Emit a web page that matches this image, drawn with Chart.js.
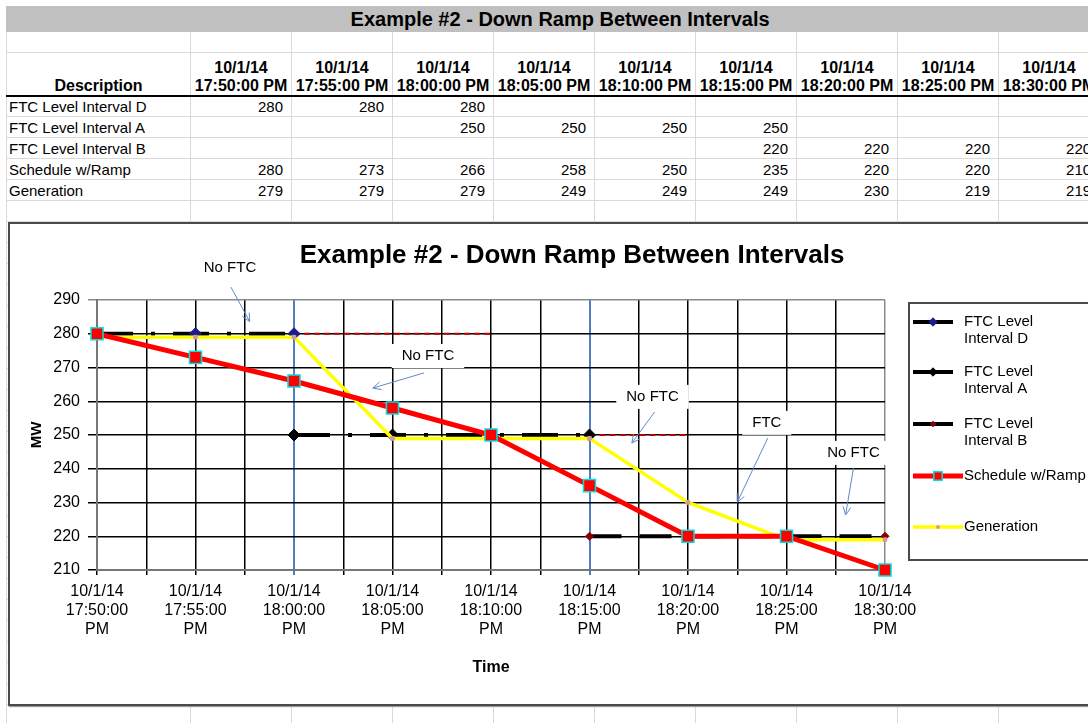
<!DOCTYPE html>
<html>
<head>
<meta charset="utf-8">
<title>Example #2 - Down Ramp Between Intervals</title>
<script src="https://cdn.jsdelivr.net/npm/chart.js@4.4.0/dist/chart.umd.min.js"></script>
<style>
  html, body { margin: 0; padding: 0; background: #fff; }
  body { width: 1088px; height: 723px; overflow: hidden; position: relative; font-family: "Liberation Sans", Arial, sans-serif; color: #000; }
  #sheet { position: absolute; left: 6px; top: 6px; width: 1093px; border-collapse: collapse; table-layout: fixed; }
  #sheet td { border: 1px solid #d9d9d9; padding: 0; font-size: 15px; white-space: nowrap; overflow: hidden; line-height: 17px; }
  #sheet tr.band td { background: #c0c0c0; border-color: #c0c0c0; font-weight: bold; font-size: 20px; text-align: center; padding-left: 14px; }
  #sheet tr.head td { font-weight: bold; font-size: 16px; text-align: center; vertical-align: bottom; border-bottom: 2px solid #000; line-height: 18px; }
  #sheet td.num { text-align: right; padding-right: 8px; }
  #sheet td.name { padding-left: 2px; }
  #frame { position: absolute; left: 8px; top: 222px; width: 1100px; height: 480px; border: 2px solid #4a4a4a; background: #fff; box-shadow: 1px 1px 1px #999; }
  #chart { position: absolute; left: 10px; top: 224px; }
</style>
</head>
<body>
<table id="sheet"></table>
<div id="frame"></div>
<canvas id="chart" width="1078" height="480"></canvas>
<script>
const dateLabel = '10/1/14';
const timeLabels = ['17:50:00', '17:55:00', '18:00:00', '18:05:00', '18:10:00', '18:15:00', '18:20:00', '18:25:00', '18:30:00'];
const ftcIntervalD = [280, 280, 280, null, null, null, null, null, null];
const ftcIntervalA = [null, null, 250, 250, 250, 250, null, null, null];
const ftcIntervalB = [null, null, null, null, null, 220, 220, 220, 220];
const scheduleRamp = [280, 273, 266, 258, 250, 235, 220, 220, 210];
const generation = [279, 279, 279, 249, 249, 249, 230, 219, 219];
// lineas rojas punteadas (nivel FTC que sigue)
const carryOverD = [null, null, 280, 280, 280, null, null, null, null];
const carryOverA = [null, null, null, null, null, 250, 250, null, null];
const yMin = 210, yMax = 290, yStep = 10;

// notas con flecha, en unidades de los ejes
const callouts = [
  { text: 'No FTC', at: [1.35, 299.6], from: [1.36, 293.8], to: [1.55, 283.6] },
  { text: 'No FTC', at: [3.36, 273.4], from: [3.32, 268.4], to: [2.80, 263.9] },
  { text: 'No FTC', at: [5.64, 261.3], from: [5.66, 256.8], to: [5.43, 247.6] },
  { text: 'FTC', at: [6.80, 253.6], from: [6.81, 249.1], to: [6.50, 230.1] },
  { text: 'No FTC', at: [7.68, 244.7], from: [7.68, 240.2], to: [7.60, 226.3] }
];

const FONT = '"Liberation Sans", Arial, sans-serif';

// 1. tabla de la hoja de calculo
const tableRows = [
  ['FTC Level Interval D', ftcIntervalD],
  ['FTC Level Interval A', ftcIntervalA],
  ['FTC Level Interval B', ftcIntervalB],
  ['Schedule w/Ramp', scheduleRamp],
  ['Generation', generation]
];

function pintarTabla() {
  const cols = '<colgroup><col style="width:184px">' + timeLabels.map(() => '<col style="width:101px">').join('') + '</colgroup>';
  const empty = n => '<td></td>'.repeat(n);
  let html = cols;
  html += '<tr class="band" style="height:25px"><td colspan="' + (timeLabels.length + 1) + '">Example #2 - Down Ramp Between Intervals</td></tr>';
  html += '<tr style="height:21px">' + empty(timeLabels.length + 1) + '</tr>';
  html += '<tr class="head" style="height:43px"><td>Description</td>' +
    timeLabels.map(t => '<td>' + dateLabel + '<br>' + t + ' PM</td>').join('') + '</tr>';
  tableRows.forEach(([name, vals]) => {
    html += '<tr style="height:21px"><td class="name">' + name + '</td>' +
      vals.map(v => '<td class="num">' + (v === null ? '' : v) + '</td>').join('') + '</tr>';
  });
  for (let i = 0; i < 25; i++) html += '<tr style="height:21px">' + empty(timeLabels.length + 1) + '</tr>';
  document.getElementById('sheet').innerHTML = html;
}

// 2. grafico
const pts = arr => arr.map((v, i) => ({ x: i, y: v }));

function arrow(ctx, x1, y1, x2, y2) {
  ctx.beginPath(); ctx.moveTo(x1, y1); ctx.lineTo(x2, y2); ctx.stroke();
  const a = Math.atan2(y2 - y1, x2 - x1), h = 9;
  ctx.beginPath();
  ctx.moveTo(x2 - h * Math.cos(a - 0.45), y2 - h * Math.sin(a - 0.45));
  ctx.lineTo(x2, y2);
  ctx.lineTo(x2 - h * Math.cos(a + 0.45), y2 - h * Math.sin(a + 0.45));
  ctx.stroke();
}

const decoracion = {
  id: 'decoracion',
  beforeDatasetsDraw(chart) {
    const { ctx, scales: { x, y } } = chart;
    ctx.save();
    ctx.font = '15px ' + FONT;
    ctx.fillStyle = '#fff';
    callouts.forEach(c => {
      const w = ctx.measureText(c.text).width + 20;
      ctx.fillRect(x.getPixelForValue(c.at[0]) - w / 2, y.getPixelForValue(c.at[1]) - 12, w, 24);
    });
    ctx.restore();
  },
  afterDatasetsDraw(chart) {
    const { ctx, scales: { x, y } } = chart;
    ctx.save();
    ctx.font = '15px ' + FONT;
    ctx.textAlign = 'center';
    ctx.textBaseline = 'middle';
    ctx.strokeStyle = '#5f89c6';
    ctx.lineWidth = 1;
    callouts.forEach(c => {
      ctx.fillStyle = '#000';
      ctx.fillText(c.text, x.getPixelForValue(c.at[0]), y.getPixelForValue(c.at[1]));
      arrow(ctx, x.getPixelForValue(c.from[0]), y.getPixelForValue(c.from[1]),
        x.getPixelForValue(c.to[0]), y.getPixelForValue(c.to[1]));
    });

    // titulo
    ctx.font = 'bold 26px ' + FONT;
    ctx.fillStyle = '#000';
    ctx.fillText('Example #2 - Down Ramp Between Intervals', 562, 32);

    // leyenda
    const lx = 899, ly = 79;
    ctx.strokeStyle = '#4a4a4a';
    ctx.lineWidth = 2;
    ctx.strokeRect(lx, ly, 200, 257);
    ctx.textAlign = 'left';
    ctx.font = '15px ' + FONT;
    const rowsY = [98, 148, 200, 252, 303];
    chart.data.datasets
      .filter(d => d.legendLines)
      .sort((a, b) => a.legendPos - b.legendPos)
      .forEach((d, i) => {
        const yy = rowsY[i];
        const len = d.legendLines.length > 1 ? 40 : 50;
        ctx.strokeStyle = d.borderColor;
        ctx.lineWidth = d.borderWidth;
        ctx.setLineDash([]);
        ctx.beginPath(); ctx.moveTo(lx + 4, yy); ctx.lineTo(lx + 4 + len, yy); ctx.stroke();
        ctx.fillStyle = d.pointBackgroundColor;
        ctx.strokeStyle = d.pointBorderColor;
        ctx.lineWidth = d.pointBorderWidth;
        Chart.helpers.drawPoint(ctx, { pointStyle: d.pointStyle, radius: d.pointRadius * 0.7, rotation: 0, borderWidth: d.pointBorderWidth }, lx + 4 + len / 2, yy);
        ctx.fillStyle = '#000';
        d.legendLines.forEach((t, j) => ctx.fillText(t, lx + 55, yy + j * 17));
      });
    ctx.restore();
  }
};

function pintarGrafico() {
  const line = (label, data, extra) => Object.assign({
    label, data: pts(data), tension: 0, spanGaps: false, clip: false, fill: false
  }, extra);

  new Chart(document.getElementById('chart'), {
    type: 'line',
    data: {
      datasets: [
        line('Schedule w/Ramp', scheduleRamp, {
          borderColor: '#ff0000', borderWidth: 5, pointStyle: 'rect', pointRadius: 8.5,
          pointBackgroundColor: '#ff0000', pointBorderColor: '#00e0e0', pointBorderWidth: 1.5,
          order: 0, legendLines: ['Schedule w/Ramp'], legendPos: 3
        }),
        line('Generation', generation, {
          borderColor: '#ffff00', borderWidth: 3.5, pointStyle: 'rect', pointRadius: 2.5,
          pointBackgroundColor: '#d39a9a', pointBorderColor: '#d39a9a', pointBorderWidth: 1,
          order: 1, legendLines: ['Generation'], legendPos: 4
        }),
        line('FTC Level Interval D', ftcIntervalD, {
          borderColor: '#000', borderWidth: 4, borderDash: [36, 18, 4, 18], pointStyle: 'rectRot', pointRadius: 6,
          pointBackgroundColor: '#1c1c8c', pointBorderColor: '#1c1c8c', pointBorderWidth: 1,
          order: 2, legendLines: ['FTC Level', 'Interval D'], legendPos: 0
        }),
        line('FTC Level Interval A', ftcIntervalA, {
          borderColor: '#000', borderWidth: 4, borderDash: [36, 18, 4, 18], pointStyle: 'rectRot', pointRadius: 6,
          pointBackgroundColor: '#000', pointBorderColor: '#000', pointBorderWidth: 1,
          order: 3, legendLines: ['FTC Level', 'Interval A'], legendPos: 1
        }),
        line('FTC Level Interval B', ftcIntervalB, {
          borderColor: '#000', borderWidth: 4, borderDash: [32, 18], pointStyle: 'rectRot', pointRadius: 4,
          pointBackgroundColor: '#8a0000', pointBorderColor: '#8a0000', pointBorderWidth: 1,
          order: 4, legendLines: ['FTC Level', 'Interval B'], legendPos: 2
        }),
        line('carry D', carryOverD, { borderColor: '#c00000', borderWidth: 2, borderDash: [6, 4], pointRadius: 0, order: 5 }),
        line('carry A', carryOverA, { borderColor: '#c00000', borderWidth: 2, borderDash: [6, 4], pointRadius: 0, order: 6 })
      ]
    },
    options: {
      responsive: false,
      animation: false,
      layout: { padding: { left: 0, right: 203, top: 76, bottom: 0 } },
      plugins: { legend: { display: false }, tooltip: { enabled: false } },
      scales: {
        x: {
          type: 'linear', min: 0, max: timeLabels.length - 1,
          afterFit: s => { s.height = 134; },
          ticks: {
            stepSize: 0.5, autoSkip: false, maxRotation: 0, padding: 7, color: '#000',
            font: { family: FONT, size: 16 },
            callback: v => Number.isInteger(v) ? [dateLabel, timeLabels[v], 'PM'] : ''
          },
          grid: {
            tickLength: 5, lineWidth: c => (c.tick && [2, 5].includes(c.tick.value)) ? 2 : 1.5,
            color: c => {
              if (!c.tick) return '#000';
              if (c.tick.value === 2 || c.tick.value === 5) return '#4f7fc2';
              if (c.tick.value === timeLabels.length - 1) return '#8a8a8a';
              return '#000';
            }
          },
          border: { color: '#777', width: 2 },
          title: { display: true, text: 'Time', color: '#000', font: { family: FONT, size: 16, weight: 'bold' }, padding: { top: 0, bottom: 27 } }
        },
        y: {
          min: yMin, max: yMax,
          afterFit: s => { s.width = 87; },
          ticks: { stepSize: yStep, padding: 8, color: '#000', font: { family: FONT, size: 16 } },
          grid: {
            tickLength: 9, lineWidth: 1.5,
            color: c => (c.tick && c.tick.value === yMax) ? '#8a8a8a' : '#000'
          },
          border: { color: '#777', width: 2 },
          title: { display: true, text: 'MW', color: '#000', font: { family: FONT, size: 15, weight: 'bold' }, padding: { top: 18, bottom: 0 } }
        }
      }
    },
    plugins: [decoracion]
  });
}

document.addEventListener('DOMContentLoaded', () => {
  pintarTabla();
  pintarGrafico();
});
</script>
</body>
</html>
